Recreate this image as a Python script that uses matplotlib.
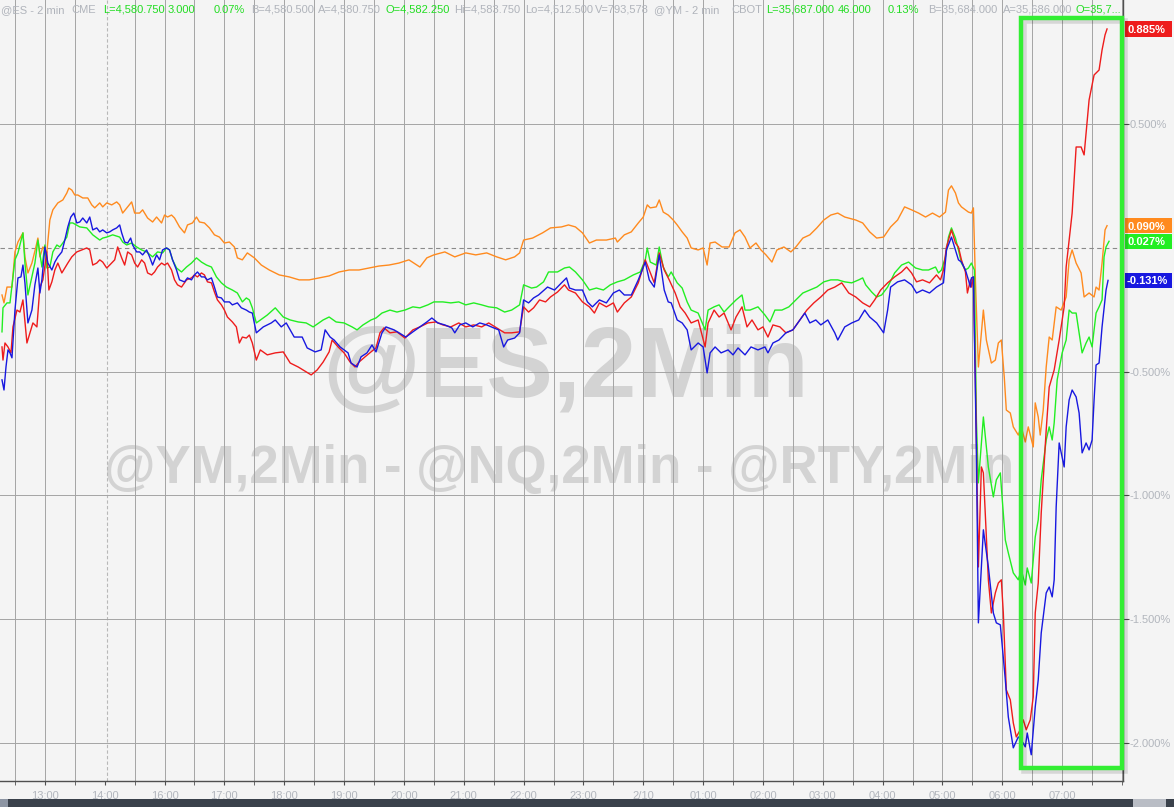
import matplotlib
matplotlib.use('Agg')
import matplotlib.pyplot as plt
from matplotlib.patches import Rectangle
from matplotlib.transforms import blended_transform_factory

plt.rcParams['font.family'] = ['Liberation Sans', 'DejaVu Sans']

# x: minutes since 13:00 on the session clock (14:00 -> 16:00 break removed)
tick_minutes = [0, 60, 120, 180, 240, 300, 360, 420, 480, 540, 600, 660, 720, 780, 840, 900, 960, 1020]
tick_labels = ['13:00', '14:00', '16:00', '17:00', '18:00', '19:00', '20:00', '21:00', '22:00',
               '23:00', '2/10', '01:00', '02:00', '03:00', '04:00', '05:00', '06:00', '07:00']
y_ticks = [-2.0, -1.5, -1.0, -0.5, 0.5]

orange_t = [-43, -41, -38, -33, -30, -27, -22, -20, -17, -13, -9, -7, -5, -2, 2, 5, 8, 13, 18, 22, 24, 27, 30, 33, 38, 43, 47, 50, 55, 58, 62, 67, 72, 75, 78, 83, 87, 90, 95, 98, 103, 108, 112, 117, 120, 123, 127, 130, 135, 140, 143, 148, 152, 155, 160, 165, 170, 175, 180, 185, 190, 193, 198, 203, 210, 217, 225, 235, 245, 255, 265, 275, 285, 295, 305, 315, 325, 335, 345, 355, 365, 376, 383, 390, 401, 411, 422, 432, 443, 453, 462, 471, 476, 480, 489, 499, 507, 518, 525, 532, 539, 546, 553, 563, 572, 574, 581, 588, 595, 600, 604, 607, 613, 616, 620, 625, 630, 634, 639, 644, 648, 655, 660, 664, 667, 672, 679, 686, 692, 697, 702, 707, 713, 718, 723, 729, 734, 741, 748, 753, 760, 767, 774, 781, 788, 795, 802, 813, 820, 827, 834, 841, 848, 855, 862, 869, 876, 883, 890, 897, 903, 906, 909, 913, 916, 919, 923, 926, 929, 931, 933, 936, 941, 944, 949, 953, 956, 959, 962, 964, 968, 971, 976, 979, 983, 986, 991, 993, 996, 998, 1001, 1004, 1007, 1010, 1014, 1019, 1024, 1027, 1030, 1034, 1039, 1042, 1047, 1052, 1054, 1057, 1060, 1063, 1065]
orange_v = [-0.190, -0.222, -0.158, -0.158, -0.016, 0.024, 0.061, -0.036, -0.101, -0.061, 0.004, 0.040, -0.036, 0.004, -0.016, 0.113, 0.154, 0.182, 0.194, 0.222, 0.242, 0.234, 0.214, 0.214, 0.202, 0.202, 0.174, 0.162, 0.182, 0.166, 0.182, 0.174, 0.186, 0.174, 0.141, 0.166, 0.186, 0.141, 0.141, 0.154, 0.121, 0.105, 0.125, 0.101, 0.133, 0.125, 0.133, 0.121, 0.085, 0.061, 0.093, 0.101, 0.125, 0.105, 0.101, 0.081, 0.053, 0.044, 0.020, 0.024, 0.004, -0.040, -0.048, -0.020, -0.040, -0.069, -0.089, -0.109, -0.117, -0.129, -0.129, -0.121, -0.113, -0.097, -0.089, -0.089, -0.081, -0.073, -0.069, -0.061, -0.048, -0.077, -0.040, -0.028, -0.016, -0.036, -0.020, -0.028, -0.020, -0.036, -0.048, -0.036, -0.020, 0.032, 0.040, 0.061, 0.081, 0.085, 0.093, 0.085, 0.061, 0.020, 0.032, 0.032, 0.040, 0.024, 0.053, 0.065, 0.101, 0.125, 0.174, 0.162, 0.166, 0.194, 0.145, 0.133, 0.113, 0.093, 0.065, 0.040, 0.000, -0.008, 0.000, -0.069, 0.020, 0.024, 0.004, 0.004, 0.061, 0.073, 0.044, 0.000, 0.020, -0.008, -0.028, -0.057, -0.008, 0.004, -0.016, 0.004, 0.040, 0.053, 0.081, 0.113, 0.133, 0.141, 0.125, 0.113, 0.101, 0.065, 0.040, 0.044, 0.085, 0.113, 0.166, 0.154, 0.141, 0.125, 0.141, 0.125, 0.145, 0.234, 0.251, 0.222, 0.182, 0.166, 0.154, 0.145, 0.141, 0.162, -0.129, -0.481, -0.251, -0.372, -0.465, -0.453, -0.384, -0.372, -0.525, -0.655, -0.667, -0.723, -0.756, -0.723, -0.784, -0.723, -0.804, -0.626, -0.683, -0.756, -0.655, -0.481, -0.360, -0.372, -0.238, -0.251, -0.198, -0.048, -0.008, -0.061, -0.101, -0.198, -0.182, -0.198, -0.158, -0.170, -0.061, 0.073, 0.090]

blue_t = [-43, -41, -39, -37, -35, -33, -30, -27, -24, -22, -20, -17, -13, -10, -7, -5, -3, 0, 3, 7, 10, 13, 17, 20, 23, 26, 29, 32, 35, 38, 42, 45, 48, 52, 55, 58, 62, 65, 68, 72, 75, 77, 80, 83, 86, 88, 92, 95, 98, 102, 105, 108, 112, 115, 118, 122, 125, 128, 132, 135, 140, 143, 147, 150, 153, 157, 160, 163, 167, 170, 173, 177, 180, 185, 188, 193, 197, 202, 205, 208, 212, 219, 227, 231, 237, 242, 250, 258, 263, 271, 277, 281, 286, 290, 296, 304, 307, 313, 317, 323, 328, 332, 338, 342, 350, 355, 362, 369, 376, 383, 388, 394, 401, 408, 411, 416, 422, 429, 436, 443, 450, 455, 460, 464, 471, 476, 480, 485, 490, 495, 504, 511, 518, 523, 526, 532, 539, 544, 549, 556, 563, 570, 576, 581, 588, 595, 602, 606, 611, 616, 621, 625, 628, 634, 639, 644, 648, 655, 660, 664, 667, 672, 678, 685, 690, 695, 702, 708, 715, 722, 725, 730, 736, 743, 750, 757, 762, 767, 773, 778, 785, 792, 795, 802, 809, 816, 822, 827, 834, 841, 845, 848, 855, 862, 869, 874, 880, 887, 894, 901, 904, 909, 913, 916, 919, 923, 926, 928, 929, 931, 934, 936, 941, 946, 951, 954, 958, 963, 966, 971, 976, 979, 983, 985, 989, 993, 996, 999, 1004, 1007, 1010, 1012, 1014, 1017, 1022, 1024, 1027, 1030, 1034, 1037, 1040, 1044, 1047, 1050, 1052, 1054, 1057, 1060, 1064, 1066]
blue_v = [-0.533, -0.574, -0.481, -0.412, -0.424, -0.444, -0.251, -0.121, -0.117, -0.069, -0.141, -0.303, -0.251, -0.149, -0.081, -0.182, -0.129, 0.004, -0.061, -0.089, -0.057, -0.036, -0.016, 0.032, 0.085, 0.125, 0.141, 0.101, 0.105, 0.121, 0.101, 0.125, 0.073, 0.081, 0.065, 0.073, 0.061, 0.065, 0.073, 0.081, 0.093, 0.061, 0.024, 0.020, 0.040, 0.012, -0.016, -0.016, -0.028, -0.008, -0.036, -0.069, -0.028, -0.048, -0.008, 0.000, -0.008, -0.048, -0.089, -0.129, -0.137, -0.121, -0.129, -0.109, -0.097, -0.117, -0.117, -0.129, -0.121, -0.158, -0.198, -0.202, -0.218, -0.218, -0.230, -0.222, -0.242, -0.251, -0.259, -0.263, -0.343, -0.319, -0.303, -0.291, -0.319, -0.303, -0.360, -0.360, -0.404, -0.420, -0.412, -0.331, -0.360, -0.372, -0.400, -0.424, -0.465, -0.481, -0.440, -0.424, -0.392, -0.420, -0.343, -0.319, -0.331, -0.343, -0.360, -0.339, -0.319, -0.299, -0.283, -0.303, -0.311, -0.323, -0.343, -0.311, -0.303, -0.319, -0.303, -0.311, -0.323, -0.331, -0.400, -0.372, -0.364, -0.343, -0.210, -0.222, -0.202, -0.190, -0.158, -0.170, -0.141, -0.121, -0.162, -0.170, -0.170, -0.218, -0.238, -0.210, -0.222, -0.182, -0.170, -0.190, -0.190, -0.129, -0.057, -0.129, -0.158, -0.028, -0.170, -0.218, -0.222, -0.291, -0.303, -0.331, -0.412, -0.384, -0.400, -0.505, -0.424, -0.400, -0.424, -0.412, -0.432, -0.404, -0.432, -0.400, -0.412, -0.400, -0.424, -0.384, -0.372, -0.343, -0.331, -0.291, -0.263, -0.303, -0.291, -0.311, -0.291, -0.343, -0.372, -0.319, -0.303, -0.291, -0.251, -0.279, -0.303, -0.343, -0.251, -0.158, -0.137, -0.129, -0.149, -0.182, -0.170, -0.182, -0.158, -0.141, -0.008, 0.044, -0.008, -0.048, -0.057, -0.089, -0.129, -0.158, -0.121, -0.117, -0.816, -1.515, -1.139, -1.289, -1.475, -1.515, -1.523, -1.745, -1.895, -2.020, -1.976, -1.988, -2.016, -1.960, -2.048, -1.855, -1.745, -1.556, -1.394, -1.370, -1.410, -1.341, -1.046, -0.788, -0.885, -0.723, -0.614, -0.574, -0.602, -0.667, -0.828, -0.788, -0.816, -0.776, -0.614, -0.473, -0.465, -0.319, -0.170, -0.131]

green_t = [-43, -42, -38, -35, -30, -27, -22, -20, -17, -13, -10, -7, -3, 0, 2, 5, 8, 12, 15, 18, 22, 25, 28, 35, 42, 48, 55, 58, 62, 68, 75, 78, 82, 87, 92, 97, 102, 108, 113, 118, 122, 125, 128, 132, 137, 142, 147, 152, 157, 162, 167, 172, 177, 182, 188, 193, 198, 202, 205, 208, 212, 223, 231, 239, 246, 254, 262, 269, 279, 285, 292, 300, 308, 313, 319, 327, 332, 338, 346, 353, 361, 369, 376, 384, 390, 399, 407, 415, 422, 430, 438, 445, 453, 461, 468, 476, 480, 488, 493, 500, 505, 514, 521, 526, 532, 539, 546, 553, 560, 567, 574, 581, 590, 597, 602, 604, 607, 613, 616, 620, 625, 628, 634, 639, 644, 648, 655, 662, 665, 671, 676, 681, 686, 693, 699, 702, 707, 715, 722, 727, 732, 739, 746, 753, 760, 767, 774, 781, 788, 795, 802, 809, 816, 820, 823, 829, 834, 839, 845, 852, 859, 866, 873, 880, 886, 893, 896, 899, 903, 906, 909, 913, 916, 919, 923, 926, 929, 932, 934, 936, 941, 946, 951, 954, 958, 959, 963, 966, 971, 976, 979, 983, 985, 989, 993, 996, 999, 1004, 1007, 1010, 1012, 1015, 1020, 1024, 1027, 1030, 1034, 1037, 1040, 1044, 1047, 1050, 1054, 1057, 1060, 1062, 1064, 1067]
green_v = [-0.339, -0.242, -0.222, -0.222, -0.048, -0.020, 0.061, -0.061, -0.190, -0.117, -0.061, 0.032, -0.077, 0.012, -0.081, -0.077, -0.016, 0.012, 0.004, 0.020, 0.044, 0.101, 0.101, 0.085, 0.081, 0.053, 0.032, 0.040, 0.044, 0.053, 0.044, 0.024, 0.012, 0.020, 0.004, -0.008, -0.016, -0.036, -0.016, -0.020, 0.000, -0.008, -0.048, -0.081, -0.097, -0.077, -0.061, -0.040, -0.057, -0.069, -0.077, -0.117, -0.141, -0.158, -0.170, -0.182, -0.218, -0.202, -0.210, -0.242, -0.303, -0.271, -0.242, -0.279, -0.291, -0.299, -0.303, -0.319, -0.291, -0.279, -0.299, -0.303, -0.319, -0.331, -0.311, -0.291, -0.283, -0.263, -0.251, -0.259, -0.251, -0.238, -0.242, -0.230, -0.218, -0.218, -0.222, -0.218, -0.230, -0.222, -0.230, -0.238, -0.242, -0.259, -0.251, -0.230, -0.149, -0.162, -0.158, -0.137, -0.097, -0.097, -0.081, -0.077, -0.097, -0.129, -0.170, -0.162, -0.170, -0.149, -0.137, -0.129, -0.109, -0.097, -0.048, 0.000, -0.057, -0.069, 0.004, -0.077, -0.117, -0.097, -0.141, -0.162, -0.218, -0.251, -0.263, -0.331, -0.251, -0.238, -0.230, -0.259, -0.238, -0.210, -0.190, -0.251, -0.251, -0.238, -0.271, -0.299, -0.251, -0.251, -0.238, -0.210, -0.182, -0.170, -0.158, -0.137, -0.129, -0.129, -0.137, -0.141, -0.129, -0.121, -0.149, -0.178, -0.198, -0.190, -0.158, -0.101, -0.069, -0.057, -0.081, -0.089, -0.089, -0.077, -0.101, -0.089, -0.036, 0.044, 0.081, 0.040, -0.008, -0.061, -0.089, -0.081, -0.061, -0.089, -0.695, -0.949, -0.683, -0.885, -1.006, -0.937, -0.909, -0.966, -1.180, -1.232, -1.313, -1.341, -1.301, -1.362, -1.293, -1.354, -1.168, -1.099, -0.937, -0.776, -0.723, -0.776, -0.707, -0.533, -0.424, -0.372, -0.251, -0.263, -0.263, -0.343, -0.424, -0.384, -0.360, -0.400, -0.263, -0.238, -0.210, -0.036, 0.004, 0.027]

red_t = [-43, -42, -40, -37, -34, -32, -28, -25, -22, -18, -15, -12, -8, -5, -2, 2, 4, 7, 10, 13, 17, 20, 23, 27, 32, 37, 42, 45, 48, 52, 55, 58, 62, 65, 70, 73, 77, 80, 83, 87, 90, 93, 97, 100, 103, 107, 110, 113, 117, 120, 123, 127, 130, 133, 137, 142, 147, 150, 153, 157, 160, 163, 167, 170, 173, 177, 180, 183, 188, 192, 195, 198, 202, 205, 208, 212, 216, 223, 231, 239, 246, 254, 262, 267, 273, 279, 285, 288, 294, 300, 306, 311, 315, 321, 327, 332, 336, 340, 346, 353, 361, 369, 376, 384, 392, 399, 407, 415, 422, 430, 438, 445, 453, 461, 468, 476, 480, 485, 490, 496, 502, 507, 514, 521, 525, 532, 539, 546, 551, 556, 563, 570, 574, 581, 588, 595, 602, 606, 611, 616, 621, 626, 632, 637, 642, 648, 655, 662, 665, 671, 676, 681, 688, 693, 699, 704, 709, 715, 720, 725, 730, 737, 743, 750, 757, 764, 771, 778, 785, 792, 799, 806, 813, 820, 827, 832, 838, 845, 852, 859, 864, 869, 874, 880, 887, 894, 898, 901, 904, 909, 913, 916, 919, 923, 925, 928, 929, 931, 933, 936, 939, 941, 946, 949, 953, 956, 959, 961, 964, 968, 971, 974, 978, 981, 984, 988, 991, 993, 996, 999, 1004, 1007, 1012, 1017, 1022, 1024, 1027, 1030, 1032, 1034, 1039, 1042, 1047, 1052, 1057, 1060, 1063, 1065]
red_v = [-0.400, -0.453, -0.384, -0.400, -0.424, -0.319, -0.251, -0.259, -0.210, -0.384, -0.343, -0.303, -0.319, -0.158, -0.129, -0.016, -0.170, -0.137, -0.089, -0.061, -0.101, -0.081, -0.061, -0.036, -0.016, -0.008, 0.000, -0.008, -0.069, -0.061, -0.048, -0.057, -0.081, -0.069, -0.048, 0.004, -0.040, -0.069, -0.016, -0.028, -0.061, -0.077, -0.048, -0.061, -0.101, -0.109, -0.097, -0.077, -0.061, -0.069, -0.061, -0.089, -0.129, -0.149, -0.158, -0.129, -0.121, -0.109, -0.117, -0.101, -0.109, -0.137, -0.141, -0.178, -0.210, -0.230, -0.251, -0.279, -0.299, -0.319, -0.384, -0.360, -0.364, -0.352, -0.384, -0.453, -0.412, -0.432, -0.424, -0.420, -0.465, -0.481, -0.501, -0.513, -0.493, -0.461, -0.420, -0.372, -0.400, -0.424, -0.461, -0.481, -0.461, -0.440, -0.420, -0.404, -0.343, -0.323, -0.343, -0.339, -0.364, -0.331, -0.319, -0.303, -0.299, -0.311, -0.319, -0.303, -0.319, -0.311, -0.319, -0.303, -0.323, -0.343, -0.343, -0.339, -0.238, -0.259, -0.242, -0.210, -0.218, -0.198, -0.178, -0.149, -0.170, -0.182, -0.218, -0.238, -0.263, -0.222, -0.238, -0.222, -0.259, -0.222, -0.198, -0.141, -0.048, -0.089, -0.141, -0.020, -0.089, -0.129, -0.182, -0.238, -0.263, -0.303, -0.291, -0.400, -0.303, -0.251, -0.279, -0.263, -0.331, -0.279, -0.238, -0.319, -0.291, -0.331, -0.319, -0.360, -0.311, -0.319, -0.343, -0.331, -0.291, -0.251, -0.222, -0.198, -0.170, -0.158, -0.141, -0.182, -0.198, -0.222, -0.238, -0.210, -0.170, -0.141, -0.117, -0.097, -0.077, -0.101, -0.137, -0.129, -0.141, -0.109, -0.129, -0.089, 0.004, 0.073, 0.020, 0.004, -0.048, -0.097, -0.182, -0.129, -0.158, -0.117, -0.533, -1.289, -0.885, -0.909, -1.341, -1.475, -1.394, -1.354, -1.341, -1.475, -1.786, -1.826, -1.919, -1.976, -1.947, -1.907, -1.947, -1.907, -1.814, -1.475, -1.354, -1.071, -0.735, -0.562, -0.493, -0.372, -0.238, -0.077, 0.032, 0.141, 0.275, 0.408, 0.408, 0.376, 0.598, 0.699, 0.719, 0.800, 0.861, 0.885]

series = [
    (orange_t, orange_v, '#ff8a1e'),
    (green_t, green_v, '#22ee22'),
    (red_t, red_v, '#ee1c1c'),
    (blue_t, blue_v, '#1818e0'),
]

W, H = 1174, 807
BG = '#f4f4f4'
fig = plt.figure(figsize=(W / 100, H / 100), dpi=100, facecolor=BG)
ax = fig.add_axes([0, 1 - 781 / H, 1123 / W, 781 / H])
ax.set_facecolor(BG)
ax.set_xlim(-45, 1081)
ax.set_ylim(-2.154, 1.002)

# grid
for m in range(-30, 1081, 30):
    if m == 60:
        ax.axvline(62, color='#b8b8b8', lw=0.8, ls=(0, (3, 2)), zorder=0.5)
    else:
        ax.axvline(m, color='#a4a4a4', lw=0.7, zorder=0.5)
for yv in y_ticks:
    ax.axhline(yv, color='#a4a4a4', lw=0.7, zorder=0.5)
ax.axhline(0, color='#8a8a8a', lw=0.8, ls=(0, (4, 3)), zorder=0.6)

# watermarks
ax.text(566 / W, 1 - 397 / H, '@ES,2Min', transform=fig.transFigure, ha='center', va='baseline',
        fontsize=72, fontweight='bold', color='#d3d3d3', zorder=0.1)
ax.text(559 / W, 1 - 483 / H, '@YM,2Min - @NQ,2Min - @RTY,2Min', transform=fig.transFigure,
        ha='center', va='baseline', fontsize=38, fontweight='bold', color='#d3d3d3', zorder=0.1)

for t, v, c in series:
    ax.plot(t, v, color=c, lw=1.0, zorder=2)

# axes styling
for s in ['left', 'top']:
    ax.spines[s].set_visible(False)
for s in ['right', 'bottom']:
    ax.spines[s].set_color('#505050')
    ax.spines[s].set_linewidth(1.0)
ax.yaxis.tick_right()
ax.set_yticks(y_ticks, ['%.3f%%' % v for v in y_ticks])
ax.set_xticks(tick_minutes, tick_labels)
ax.set_xticks(range(-30, 1081, 30), minor=True)
ax.tick_params(axis='x', which='both', direction='out', length=3, color='#505050',
               labelcolor='#b2b6bd', labelsize=8, pad=4)
ax.tick_params(axis='y', direction='out', length=4, color='#505050', labelcolor='#b2b6bd',
               labelsize=8, pad=1)

# value badges on the right
bt = blended_transform_factory(fig.transFigure, ax.transData)
for t, v, c in series:
    last = v[-1]
    ax.add_patch(Rectangle((1125 / W, last - 0.031), 47 / W, 0.062, transform=bt,
                           facecolor=c, edgecolor='none', clip_on=False, zorder=5))
    ax.text(1127 / W, last, '%.3f%%' % last, transform=bt, ha='left', va='center_baseline',
            color='white', fontsize=8, fontweight='bold', clip_on=False, zorder=6)

# green highlight box
x0, y0, x1, y1 = 1021, 18, 1122, 768
fig.add_artist(Rectangle(((x0 + 3) / W, 1 - (y1 + 3) / H), (x1 - x0) / W, (y1 - y0) / H,
                         transform=fig.transFigure, fill=False, edgecolor='#000000', alpha=0.12,
                         lw=4))
fig.add_artist(Rectangle((x0 / W, 1 - y1 / H), (x1 - x0) / W, (y1 - y0) / H,
                         transform=fig.transFigure, fill=False, edgecolor='#33ee33', lw=3.2))

# header
GRAY = '#b0b4bb'
GREEN = '#22dd22'
header = [
    (1, '@ES - 2 min', GRAY), (71, 'CME', GRAY), (103, 'L=4,580.750', GREEN), (168, '3.000', GREEN),
    (214, '0.07%', GREEN), (251, 'B=4,580.500', GRAY), (318, 'A=4,580.750', GRAY),
    (386, 'O=4,582.250', GREEN), (454, 'Hi=4,583.750', GRAY), (525, 'Lo=4,512.500', GRAY),
    (595, 'V=793,578', GRAY), (654, '@YM - 2 min', GRAY), (731, 'CBOT', GRAY),
    (766, 'L=35,687.000', GREEN), (838, '46.000', GREEN), (888, '0.13%', GREEN),
    (928, 'B=35,684.000', GRAY), (1003, 'A=35,686.000', GRAY), (1076, 'O=35,7...', GREEN),
]
for x, s, c in header:
    fig.text(x / W, 1 - 10 / H, s, ha='left', va='center', fontsize=8, color=c)

# bottom bar
fig.add_artist(Rectangle((0, 0), 1, 8 / H, transform=fig.transFigure, facecolor='#3a414b',
                         edgecolor='none'))
fig.add_artist(Rectangle((0, 0), 8 / W, 8 / H, transform=fig.transFigure, facecolor='#8d95a3',
                         edgecolor='none'))
fig.add_artist(Rectangle((1133 / W, 0), 33 / W, 8 / H, transform=fig.transFigure,
                         facecolor='#b9bdc5', edgecolor='none'))

fig.savefig('out.png', dpi=100, facecolor=BG)
